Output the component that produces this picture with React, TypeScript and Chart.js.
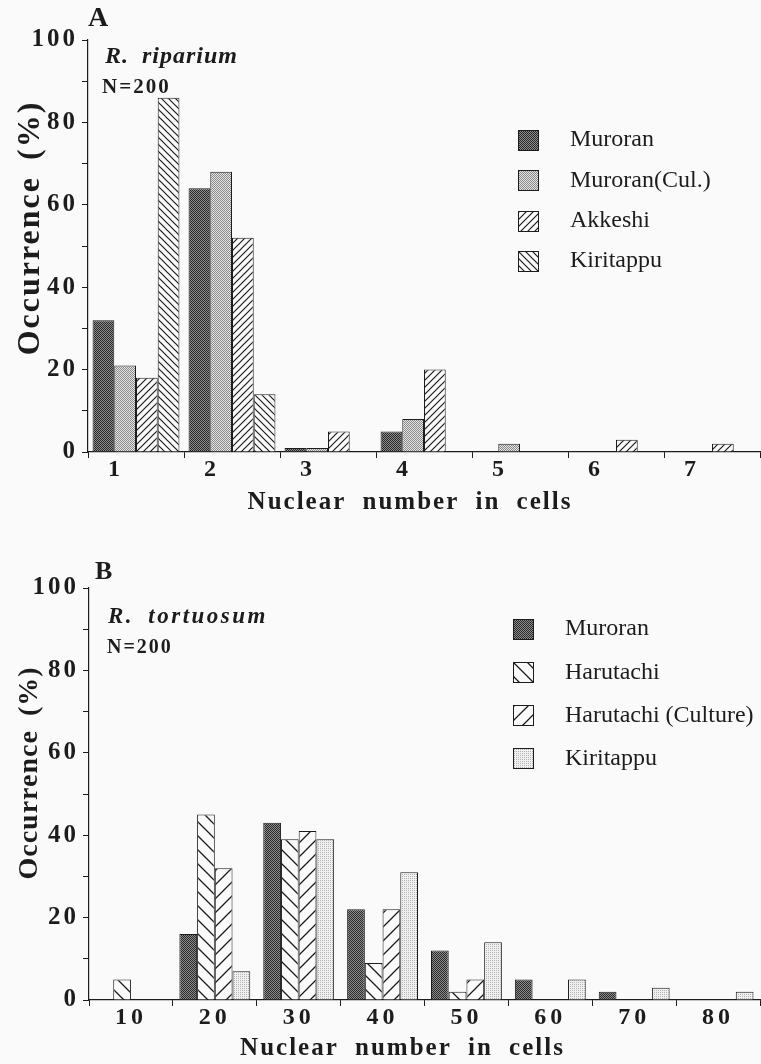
import React, { useEffect, useMemo, useRef } from 'react';
import { Chart, registerables } from 'chart.js';

Chart.register(...registerables);

const FONT = "'Liberation Serif', 'Times New Roman', Times, serif";
const INK = '#1c1c1c';
const PAPER = '#fafafa';

// ---------- Panel A: R. riparium ----------
const categoriesA = ['1', '2', '3', '4', '5', '6', '7'];
const seriesNamesA = ['Muroran', 'Muroran(Cul.)', 'Akkeshi', 'Kiritappu'];
const muroranA = [32, 64, 1, 5, 0, 0, 0];
const muroranCulA = [21, 68, 1, 8, 2, 0, 0];
const akkeshiA = [18, 52, 5, 20, 0, 3, 2];
const kiritappuA = [86, 14, 0, 0, 0, 0, 0];

// ---------- Panel B: R. tortuosum ----------
const categoriesB = ['10', '20', '30', '40', '50', '60', '70', '80'];
const seriesNamesB = ['Muroran', 'Harutachi', 'Harutachi (Culture)', 'Kiritappu'];
const muroranB = [0, 16, 43, 22, 12, 5, 2, 0];
const harutachiB = [5, 45, 39, 9, 2, 0, 0, 0];
const harutachiCultureB = [0, 32, 41, 22, 5, 0, 0, 0];
const kiritappuB = [0, 7, 39, 31, 14, 5, 3, 2];

// ---------- shared axis ----------
const yMin = 0;
const yMax = 100;
const yStep = 10;
const yLabelStep = 20;
const xTitle = 'Nuclear number in cells';
const yTitle = 'Occurrence (%)';

// pattern kinds (styles)
type Kind = 'dark' | 'light' | 'pale' | 'hatchUp' | 'hatchDown' | 'sparseUp' | 'sparseDown';
const kindsA: Kind[] = ['dark', 'light', 'hatchUp', 'hatchDown'];
const kindsB: Kind[] = ['dark', 'sparseDown', 'sparseUp', 'pale'];

function makeTile(kind: Kind): HTMLCanvasElement {
  const c = document.createElement('canvas');
  const g = c.getContext('2d') as CanvasRenderingContext2D;
  if (kind === 'dark' || kind === 'light' || kind === 'pale') {
    c.width = 2;
    c.height = 2;
    const [a, b] =
      kind === 'dark' ? ['#2a2a2a', '#8c8c8c'] : kind === 'light' ? ['#8a8a8a', '#e4e4e4'] : ['#b4b4b4', '#f0f0f0'];
    g.fillStyle = b;
    g.fillRect(0, 0, 2, 2);
    g.fillStyle = a;
    g.fillRect(0, 0, 1, 1);
    if (kind !== 'pale') g.fillRect(1, 1, 1, 1);
    return c;
  }
  const s = kind === 'hatchUp' || kind === 'hatchDown' ? 7 : 14;
  c.width = s;
  c.height = s;
  g.fillStyle = PAPER;
  g.fillRect(0, 0, s, s);
  g.strokeStyle = INK;
  g.lineWidth = kind === 'hatchUp' || kind === 'hatchDown' ? 1.2 : 1.3;
  g.beginPath();
  const up = kind === 'hatchUp' || kind === 'sparseUp';
  for (let k = -1; k <= 1; k++) {
    if (up) {
      g.moveTo(k * s - 1, s + 1);
      g.lineTo(k * s + s + 1, -1);
    } else {
      g.moveTo(k * s - 1, -1);
      g.lineTo(k * s + s + 1, s + 1);
    }
  }
  g.stroke();
  return c;
}

const tweakPlugin = {
  id: 'tweaks',
  beforeDraw(chart: any, _args: any, opts: any) {
    const ctx = chart.ctx as CanvasRenderingContext2D;
    for (const id of ['x', 'y']) {
      const scale: any = chart.scales[id];
      if (!scale || scale.__tweaked) continue;
      scale.__tweaked = true;
      const t = (opts && opts[id]) || {};
      const origTitle = scale.drawTitle;
      scale.drawTitle = function (...a: any[]) {
        ctx.save();
        ctx.translate(t.titleDx || 0, t.titleDy || 0);
        (ctx as any).letterSpacing = (t.titleLs || 0) + 'px';
        (ctx as any).wordSpacing = (t.titleWs || 0) + 'px';
        origTitle.apply(this, a);
        ctx.restore();
      };
      const origLabels = scale.drawLabels;
      scale.drawLabels = function (...a: any[]) {
        ctx.save();
        (ctx as any).letterSpacing = (t.labelLs || 0) + 'px';
        origLabels.apply(this, a);
        ctx.restore();
      };
    }
  },
};

interface PanelSpec {
  categories: string[];
  names: string[];
  series: number[][];
  kinds: Kind[];
  width: number;
  height: number;
  padTop: number;
  yAxisWidth: number;
  xAxisHeight: number;
  categoryPercentage: number;
  labelOffset: number;
  xLabelLs: number;
  yTitleSize: number;
  yTitlePad: number;
  yTitleLs: number;
  yTitleDy: number;
  xTitlePadBottom: number;
  xTitleDx: number;
}

function BarPanel({ spec, top }: { spec: PanelSpec; top: number }) {
  const ref = useRef<HTMLCanvasElement | null>(null);
  useEffect(() => {
    const canvas = ref.current as HTMLCanvasElement;
    const ctx = canvas.getContext('2d') as CanvasRenderingContext2D;
    const patterns = spec.kinds.map((k) => ctx.createPattern(makeTile(k), 'repeat'));
    const tickFont = { family: FONT, size: 24, weight: 'bold' as const };
    const chart = new Chart(canvas, {
      type: 'bar',
      data: {
        labels: spec.categories,
        datasets: spec.series.map((d, i) => ({
          label: spec.names[i],
          data: d,
          backgroundColor: patterns[i] as any,
          borderColor: INK,
          borderWidth: 1,
          borderSkipped: 'start' as const,
          categoryPercentage: spec.categoryPercentage,
          barPercentage: 1,
        })),
      },
      options: {
        responsive: false,
        animation: false,
        layout: { padding: { top: spec.padTop, right: 1, left: 0, bottom: 0 } },
        plugins: {
          legend: { display: false },
          tooltip: { enabled: false },
          tweaks: {
            x: { titleLs: 2, titleWs: 8, titleDx: spec.xTitleDx, labelLs: spec.xLabelLs },
            y: { titleLs: spec.yTitleLs, titleWs: 6, titleDy: spec.yTitleDy, labelLs: 3 },
          },
        } as any,
        scales: {
          x: {
            grid: { display: true, drawOnChartArea: false, tickLength: 6, color: INK, lineWidth: 1, offset: true },
            border: { display: true, color: INK, width: 1.2 },
            ticks: {
              font: tickFont,
              color: INK,
              padding: -3,
              labelOffset: spec.labelOffset,
              maxRotation: 0,
              autoSkip: false,
            },
            title: {
              display: true,
              text: xTitle,
              font: { family: FONT, size: 25, weight: 'bold' },
              color: INK,
              padding: { top: 0, bottom: spec.xTitlePadBottom },
            },
            afterFit: (s: any) => {
              s.height = spec.xAxisHeight;
            },
          },
          y: {
            min: yMin,
            max: yMax,
            grid: { display: true, drawOnChartArea: false, tickLength: 6, color: INK, lineWidth: 1 },
            border: { display: true, color: INK, width: 1.2 },
            ticks: {
              stepSize: yStep,
              font: { family: FONT, size: 25, weight: 'bold' },
              color: INK,
              padding: 4,
              callback: (v: any) => (Number(v) % yLabelStep === 0 ? String(v) : ''),
            },
            title: {
              display: true,
              text: yTitle,
              font: { family: FONT, size: spec.yTitleSize, weight: 'bold' },
              color: INK,
              padding: { top: spec.yTitlePad, bottom: 0 },
            },
            afterFit: (s: any) => {
              s.width = spec.yAxisWidth;
            },
          },
        },
      },
      plugins: [tweakPlugin as any],
    });
    return () => chart.destroy();
  }, []);
  return (
    <canvas
      ref={ref}
      width={spec.width}
      height={spec.height}
      style={{ position: 'absolute', left: 0, top, width: spec.width, height: spec.height }}
    />
  );
}

function Legend({
  names,
  kinds,
  swatchLeft,
  textLeft,
  firstCenter,
  spacing,
  baselineShift,
}: {
  names: string[];
  kinds: Kind[];
  swatchLeft: number;
  textLeft: number;
  firstCenter: number;
  spacing: number;
  baselineShift: number;
}) {
  const urls = useMemo(() => kinds.map((k) => makeTile(k).toDataURL()), [kinds]);
  return (
    <>
      {names.map((n, i) => {
        const c = firstCenter + i * spacing;
        return (
          <React.Fragment key={n}>
            <div
              style={{
                position: 'absolute',
                left: swatchLeft,
                top: c - 10,
                width: 19,
                height: 19,
                border: `1px solid ${INK}`,
                backgroundImage: `url(${urls[i]})`,
                backgroundRepeat: 'repeat',
                imageRendering: 'pixelated',
              }}
            />
            <div
              style={{
                position: 'absolute',
                left: textLeft,
                top: c + baselineShift - 0.8375 * 24,
                font: `24px ${FONT}`,
                lineHeight: '24px',
                color: INK,
                whiteSpace: 'nowrap',
              }}
            >
              {n}
            </div>
          </React.Fragment>
        );
      })}
    </>
  );
}

function Label({
  text,
  left,
  top,
  size,
  italic,
  ls,
  ws,
}: {
  text: string;
  left: number;
  top: number;
  size: number;
  italic?: boolean;
  ls?: number;
  ws?: number;
}) {
  return (
    <div
      style={{
        position: 'absolute',
        left,
        top,
        fontFamily: FONT,
        fontWeight: 'bold',
        fontStyle: italic ? 'italic' : 'normal',
        fontSize: size,
        lineHeight: `${size}px`,
        letterSpacing: `${ls || 0}px`,
        wordSpacing: `${ws || 0}px`,
        color: INK,
        whiteSpace: 'nowrap',
      }}
    >
      {text}
    </div>
  );
}

const specA: PanelSpec = {
  categories: categoriesA,
  names: seriesNamesA,
  series: [muroranA, muroranCulA, akkeshiA, kiritappuA],
  kinds: kindsA,
  width: 761,
  height: 530,
  padTop: 40,
  yAxisWidth: 88,
  xAxisHeight: 78,
  categoryPercentage: 0.905,
  labelOffset: -22,
  xLabelLs: 0,
  yTitleSize: 32,
  yTitlePad: 12,
  yTitleLs: 2,
  yTitleDy: -18,
  xTitlePadBottom: 12,
  xTitleDx: -14,
};

const specB: PanelSpec = {
  categories: categoriesB,
  names: seriesNamesB,
  series: [muroranB, harutachiB, harutachiCultureB, kiritappuB],
  kinds: kindsB,
  width: 761,
  height: 524,
  padTop: 48,
  yAxisWidth: 89,
  xAxisHeight: 64,
  categoryPercentage: 0.845,
  labelOffset: 0,
  xLabelLs: 4,
  yTitleSize: 28,
  yTitlePad: 13,
  yTitleLs: 1,
  yTitleDy: -21,
  xTitlePadBottom: 0,
  xTitleDx: -22,
};

export default function App() {
  return (
    <div
      style={{
        position: 'absolute',
        left: 0,
        top: 0,
        width: 761,
        height: 1064,
        background: PAPER,
        overflow: 'hidden',
      }}
    >
      <BarPanel spec={specA} top={0} />
      <BarPanel spec={specB} top={540} />

      <Label text="A" left={88} top={3} size={28} />
      <Label text="R. riparium" left={105} top={43} size={24} italic ls={1} ws={6} />
      <Label text="N=200" left={102} top={76} size={21} ls={2} />

      <Label text="B" left={95} top={558} size={26} />
      <Label text="R. tortuosum" left={108} top={604} size={23} italic ls={2.5} ws={6} />
      <Label text="N=200" left={107} top={636} size={20} ls={2} />

      <Legend
        names={seriesNamesA}
        kinds={kindsA}
        swatchLeft={518}
        textLeft={570}
        firstCenter={140}
        spacing={40.3}
        baselineShift={6.5}
      />
      <Legend
        names={seriesNamesB}
        kinds={kindsB}
        swatchLeft={513}
        textLeft={565}
        firstCenter={628.5}
        spacing={43.3}
        baselineShift={7}
      />
    </div>
  );
}
